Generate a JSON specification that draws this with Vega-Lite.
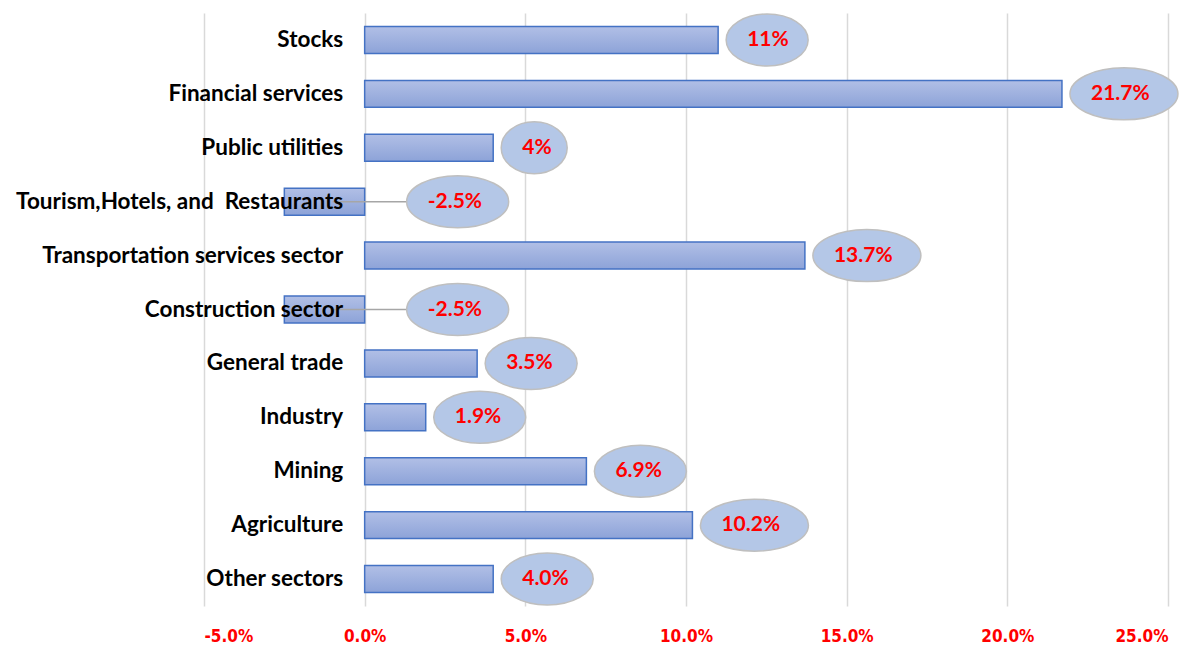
{
  "$schema": "https://vega.github.io/schema/vega-lite/v6.json",
  "width": 964,
  "height": 593,
  "autosize": {"type": "none"},
  "padding": {"left": 204, "top": 13, "right": 34, "bottom": 41},
  "background": "white",
  "config": {"view": {"stroke": null}},
  "data": {
    "values": [
      {"sector": "Stocks", "value": 11, "label": "11%"},
      {"sector": "Financial services", "value": 21.7, "label": "21.7%"},
      {"sector": "Public utilities", "value": 4, "label": "4%"},
      {"sector": "Tourism,Hotels, and \u00a0Restaurants", "value": -2.5, "label": "-2.5%"},
      {"sector": "Transportation services sector", "value": 13.7, "label": "13.7%"},
      {"sector": "Construction sector", "value": -2.5, "label": "-2.5%"},
      {"sector": "General trade", "value": 3.5, "label": "3.5%"},
      {"sector": "Industry", "value": 1.9, "label": "1.9%"},
      {"sector": "Mining", "value": 6.9, "label": "6.9%"},
      {"sector": "Agriculture", "value": 10.2, "label": "10.2%"},
      {"sector": "Other sectors", "value": 4.0, "label": "4.0%"}
    ]
  },
  "encoding": {
    "y": {
      "field": "sector",
      "type": "nominal",
      "sort": null,
      "scale": {"paddingInner": 0.5, "paddingOuter": 0.25},
      "axis": {
        "orient": "left",
        "offset": -160.7,
        "title": null,
        "domain": false,
        "ticks": false,
        "labelPadding": 22,
        "labelFont": "Lato",
        "labelFontWeight": "bold",
        "labelFontSize": 22.5,
        "labelColor": "#000000",
        "labelLimit": 400,
        "zindex": 1
      }
    }
  },
  "layer": [
    {
      "mark": {
        "type": "bar",
        "fill": {
          "gradient": "linear",
          "x1": 0, "y1": 0, "x2": 0, "y2": 1,
          "stops": [
            {"offset": 0, "color": "#b1bfe6"},
            {"offset": 1, "color": "#8da3d8"}
          ]
        },
        "stroke": "#4472c4",
        "strokeWidth": 1.5
      },
      "encoding": {
        "x": {
          "field": "value",
          "type": "quantitative",
          "scale": {"domain": [-5, 25], "nice": false, "zero": false},
          "axis": {
            "title": null,
            "values": [-5, 0, 5, 10, 15, 20, 25],
            "labelExpr": "(datum.value < 0 ? '-' : '') + format(abs(datum.value), '.1f') + '%'",
            "grid": true,
            "gridColor": "#d9d9d9",
            "gridWidth": 1.5,
            "domain": false,
            "ticks": false,
            "labelPadding": 22,
            "labelFont": "Liberation Sans Narrow, DejaVu Sans Condensed, Liberation Sans, sans-serif",
            "labelFontWeight": "bold",
            "labelFontSize": 17,
            "labelColor": "#ff0000",
            "zindex": 0
          }
        }
      }
    },
    {
      "transform": [{"filter": "datum.value < 0"}],
      "mark": {"type": "rule", "color": "#a6a6a6", "strokeWidth": 1.5},
      "encoding": {
        "x": {"datum": -1.0, "type": "quantitative"},
        "x2": {"datum": 1.3}
      }
    },
    {
      "transform": [{"filter": "datum.value >= 0"}],
      "mark": {"type": "point", "filled": true, "fill": "#b4c7e7", "stroke": "#bfbfbf", "strokeWidth": 1.5, "opacity": 1, "size": 4},
      "encoding": {
        "x": {"field": "value", "type": "quantitative"},
        "shape": {
          "field": "label",
          "type": "nominal",
          "legend": null,
          "scale": {
            "domain": ["4%", "11%", "3.5%", "1.9%", "6.9%", "4.0%", "21.7%", "13.7%", "10.2%", "-2.5%"],
            "range": [
              "M 8 0 C 8 -14.4 22.8 -26 41 -26 C 59.2 -26 74 -14.4 74 0 C 74 14.4 59.2 26 41 26 C 22.8 26 8 14.4 8 0 Z",
              "M 8 0 C 8 -14.4 26.4 -26 49 -26 C 71.6 -26 90 -14.4 90 0 C 90 14.4 71.6 26 49 26 C 26.4 26 8 14.4 8 0 Z",
              "M 8 0 C 8 -14.4 28.6 -26 54 -26 C 79.4 -26 100 -14.4 100 0 C 100 14.4 79.4 26 54 26 C 28.6 26 8 14.4 8 0 Z",
              "M 8 0 C 8 -14.4 28.6 -26 54 -26 C 79.4 -26 100 -14.4 100 0 C 100 14.4 79.4 26 54 26 C 28.6 26 8 14.4 8 0 Z",
              "M 8 0 C 8 -14.4 28.6 -26 54 -26 C 79.4 -26 100 -14.4 100 0 C 100 14.4 79.4 26 54 26 C 28.6 26 8 14.4 8 0 Z",
              "M 8 0 C 8 -14.4 28.6 -26 54 -26 C 79.4 -26 100 -14.4 100 0 C 100 14.4 79.4 26 54 26 C 28.6 26 8 14.4 8 0 Z",
              "M 8 0 C 8 -14.4 32.2 -26 62 -26 C 91.8 -26 116 -14.4 116 0 C 116 14.4 91.8 26 62 26 C 32.2 26 8 14.4 8 0 Z",
              "M 8 0 C 8 -14.4 32.2 -26 62 -26 C 91.8 -26 116 -14.4 116 0 C 116 14.4 91.8 26 62 26 C 32.2 26 8 14.4 8 0 Z",
              "M 8 0 C 8 -14.4 32.2 -26 62 -26 C 91.8 -26 116 -14.4 116 0 C 116 14.4 91.8 26 62 26 C 32.2 26 8 14.4 8 0 Z",
              "M 8 0 C 8 -14.4 30.8 -26 59 -26 C 87.2 -26 110 -14.4 110 0 C 110 14.4 87.2 26 59 26 C 30.8 26 8 14.4 8 0 Z"
            ]
          }
        }
      }
    },
    {
      "transform": [{"filter": "datum.value < 0"}],
      "mark": {"type": "point", "filled": true, "fill": "#b4c7e7", "stroke": "#bfbfbf", "strokeWidth": 1.5, "opacity": 1, "size": 4, "xOffset": 34},
      "encoding": {
        "x": {"datum": 0, "type": "quantitative"},
        "shape": {"field": "label", "type": "nominal", "legend": null}
      }
    },
    {
      "transform": [{"filter": "datum.value >= 0"}],
      "mark": {"type": "text", "align": "left", "baseline": "middle", "dx": 29, "font": "Lato", "fontWeight": "bold", "fontSize": 21, "color": "#ff0000"},
      "encoding": {
        "x": {"field": "value", "type": "quantitative"},
        "text": {"field": "label"}
      }
    },
    {
      "transform": [{"filter": "datum.value < 0"}],
      "mark": {"type": "text", "align": "left", "baseline": "middle", "dx": 63, "font": "Lato", "fontWeight": "bold", "fontSize": 21, "color": "#ff0000"},
      "encoding": {
        "x": {"datum": 0, "type": "quantitative"},
        "text": {"field": "label"}
      }
    }
  ]
}
